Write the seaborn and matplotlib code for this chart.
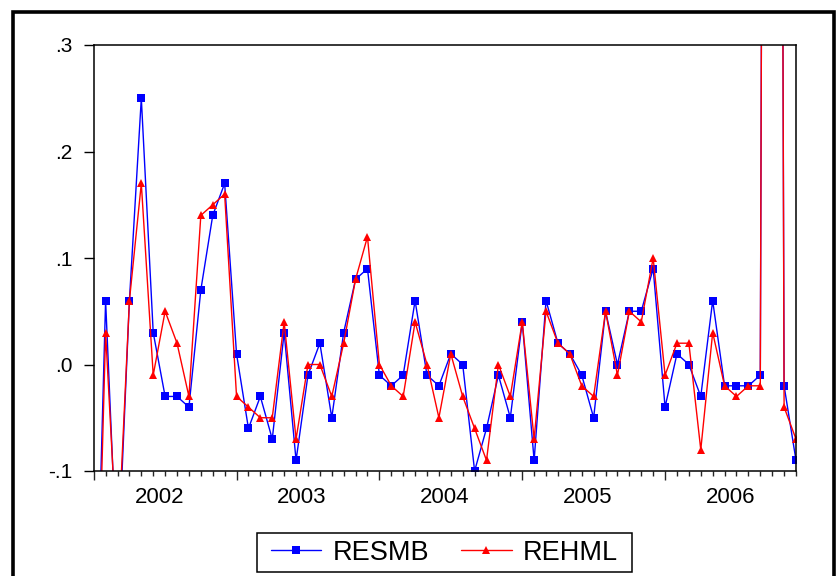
import matplotlib
matplotlib.use("Agg")
import matplotlib.pyplot as plt
import matplotlib.transforms as mtransforms
from matplotlib.patches import Rectangle
from matplotlib.ticker import FixedLocator, FuncFormatter
import seaborn as sns
import pandas as pd
import numpy as np

# Monthly residual series, 2002M01 .. 2006M12
years = [2002, 2003, 2004, 2005, 2006]
resmb = [-0.35, 0.06, -0.20, 0.06, 0.25, 0.03, -0.03, -0.03, -0.04, 0.07, 0.14, 0.17,
         0.01, -0.06, -0.03, -0.07, 0.03, -0.09, -0.01, 0.02, -0.05, 0.03, 0.08, 0.09,
         -0.01, -0.02, -0.01, 0.06, -0.01, -0.02, 0.01, 0.00, -0.10, -0.06, -0.01, -0.05,
         0.04, -0.09, 0.06, 0.02, 0.01, -0.01, -0.05, 0.05, 0.00, 0.05, 0.05, 0.09,
         -0.04, 0.01, 0.00, -0.03, 0.06, -0.02, -0.02, -0.02, -0.01, 3.4, -0.02, -0.09]
rehml = [-0.38, 0.03, -0.18, 0.06, 0.17, -0.01, 0.05, 0.02, -0.03, 0.14, 0.15, 0.16,
         -0.03, -0.04, -0.05, -0.05, 0.04, -0.07, 0.00, 0.00, -0.03, 0.02, 0.08, 0.12,
         0.00, -0.02, -0.03, 0.04, 0.00, -0.05, 0.01, -0.03, -0.06, -0.09, 0.00, -0.03,
         0.04, -0.07, 0.05, 0.02, 0.01, -0.02, -0.03, 0.05, -0.01, 0.05, 0.04, 0.10,
         -0.01, 0.02, 0.02, -0.08, 0.03, -0.02, -0.03, -0.02, -0.02, 3.5, -0.04, -0.07]
series_names = ["RESMB", "REHML"]
y_ticks = [-0.1, 0.0, 0.1, 0.2, 0.3]

months = np.arange(len(resmb))
df = pd.concat([
    pd.DataFrame({"t": months, "value": resmb, "series": series_names[0]}),
    pd.DataFrame({"t": months, "value": rehml, "series": series_names[1]}),
], ignore_index=True)

sns.set_style("white")
plt.rcParams["font.family"] = ["Liberation Sans", "DejaVu Sans"]

W, H = 839, 576
fig = plt.figure(figsize=(W / 100, H / 100), dpi=100)
left, right, top, bottom = 93.7, 796.0, 45.0, 471.0
ax = fig.add_axes([left / W, 1 - bottom / H, (right - left) / W, (bottom - top) / H])

sns.lineplot(data=df, x="t", y="value", hue="series", style="series",
             palette={"RESMB": "#0000FF", "REHML": "#FF0000"},
             markers={"RESMB": "s", "REHML": "^"}, dashes=False,
             sort=False, estimator=None, linewidth=1.0, markersize=5.5,
             markeredgewidth=0, ax=ax)

ax.set_xlim(0, len(resmb) - 1)
ax.set_ylim(-0.1, 0.3)
ax.set_xlabel("")
ax.set_ylabel("")

# y axis: EViews-style labels without leading zero
ax.yaxis.set_major_locator(FixedLocator(y_ticks))
ax.yaxis.set_major_formatter(FuncFormatter(lambda v, p: f"{v:.1f}".replace("0.", ".")))
ax.tick_params(axis="y", which="major", direction="out", length=7, width=1,
               pad=8, labelsize=15, colors="black", left=True, right=False)

# x axis: long ticks at year starts, short ticks for each month
ax.xaxis.set_major_locator(FixedLocator([12 * i for i in range(len(years))]))
ax.xaxis.set_minor_locator(FixedLocator(list(months)))
ax.xaxis.set_major_formatter(FuncFormatter(lambda v, p: ""))
ax.tick_params(axis="x", which="major", direction="out", length=6.5, width=1,
               bottom=True, top=False)
ax.tick_params(axis="x", which="minor", direction="out", length=3.5, width=1,
               bottom=True, top=False)

xform = mtransforms.blended_transform_factory(ax.transData, ax.transAxes)
for i, yr in enumerate(years):
    ax.text(12 * i + 5.5, -0.038, str(yr), transform=xform, ha="center", va="top",
            fontsize=16, color="black")

for s in ax.spines.values():
    s.set_color("black")
    s.set_linewidth(1.1)

# legend below the plot, inside its own box
box_l, box_r, box_t, box_b = 257, 632, 533, 572
handles, labels = ax.get_legend_handles_labels()
leg = ax.legend(handles, labels, ncol=2, loc="center",
                bbox_to_anchor=((box_l + box_r) / 2 / W, 1 - (box_t + box_b) / 2 / H),
                bbox_transform=fig.transFigure, frameon=False,
                fontsize=19.5, handlelength=1.85, handletextpad=0.42,
                columnspacing=1.2, borderpad=0, borderaxespad=0, markerscale=1.0)
for t in leg.get_texts():
    t.set_color("black")
fig.add_artist(Rectangle((box_l / W, 1 - box_b / H), (box_r - box_l) / W,
                         (box_b - box_t) / H, transform=fig.transFigure,
                         fill=False, lw=1.1, edgecolor="black"))

# outer frame round the whole graphic
fig.add_artist(Rectangle((13 / W, -0.05), (834 - 13) / W, 1 - 12 / H + 0.05,
                         transform=fig.transFigure, fill=False, lw=2.6,
                         edgecolor="black"))

fig.savefig("out.png", dpi=100, facecolor="white")
